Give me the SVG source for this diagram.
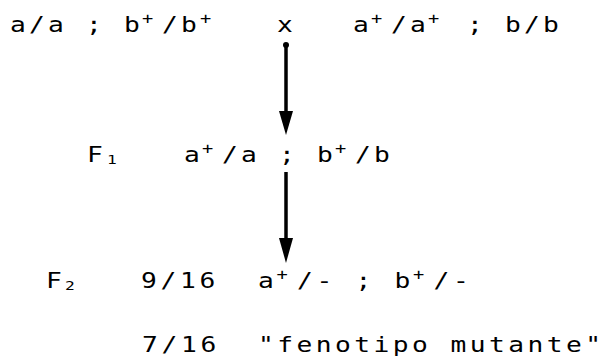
<svg xmlns="http://www.w3.org/2000/svg" width="603" height="358" viewBox="0 0 603 358">
<style>
.t{font-family:"DejaVu Sans Mono","Liberation Mono",monospace;font-size:21px;fill:#000}
.sup{font-size:15px}
.sub{font-size:13px}
.stem{stroke:#000;stroke-width:3.5;fill:none}
.head{fill:#000}
</style>
<rect width="603" height="358" fill="#fff"/>
<g id="parents">
<text class="t" transform="scale(1.25 1)" y="32"><tspan x="8 23.2 38.4">a/a</tspan><tspan x="68.8">;</tspan><tspan x="99.2">b</tspan><tspan class="sup" x="113.6" y="24">+</tspan><tspan x="129.6" y="32">/</tspan><tspan x="144.8">b</tspan><tspan class="sup" x="160" y="24">+</tspan><tspan x="221.6" y="32">x</tspan><tspan x="282.4">a</tspan><tspan class="sup" x="296.8" y="24">+</tspan><tspan x="312.8" y="32">/</tspan><tspan x="328">a</tspan><tspan class="sup" x="342.4" y="24">+</tspan><tspan x="373.6" y="32">;</tspan><tspan x="404 419.2 434.4">b/b</tspan></text>
</g>
<g id="f1">
<text class="t" transform="scale(1.25 1)" y="162"><tspan x="69.6">F</tspan><tspan class="sub" x="85.6" y="164">1</tspan><tspan x="147.2" y="162">a</tspan><tspan class="sup" x="161.6" y="154">+</tspan><tspan x="177.6" y="162">/</tspan><tspan x="192.8">a</tspan><tspan x="223.2">;</tspan><tspan x="253.6">b</tspan><tspan class="sup" x="268" y="154">+</tspan><tspan x="284" y="162">/</tspan><tspan x="299.2">b</tspan></text>
</g>
<g id="f2">
<text class="t" transform="scale(1.25 1)" y="288"><tspan x="36.8">F</tspan><tspan class="sub" x="52" y="290">2</tspan><tspan x="112.8 128.4 144 159.6" y="288">9/16</tspan><tspan x="206.4">a</tspan><tspan class="sup" x="221.2" y="280">+</tspan><tspan x="237.6" y="288">/</tspan><tspan x="253.2">-</tspan><tspan x="284.4">;</tspan><tspan x="315.6">b</tspan><tspan class="sup" x="330.4" y="280">+</tspan><tspan x="346.8" y="288">/</tspan><tspan x="362.4">-</tspan></text>
</g>
<g id="f2-mutant">
<text class="t" transform="scale(1.25 1)" y="352"><tspan x="113.6 129.2 144.8 160.4">7/16</tspan><tspan x="206.4 221.8 237.2 252.6 268 283.4 298.8 314.2 329.6 345 360.4 375.8 391.2 406.6 422 437.4 452.8 468.2">"fenotipo mutante"</tspan></text>
</g>
<g id="connectors">
<line class="stem" x1="286" y1="45" x2="286" y2="116"/>
<circle cx="286" cy="45" r="3" fill="#000"/>
<polygon class="head" points="279,111 293,111 286,135"/>
<line class="stem" x1="286" y1="172" x2="286" y2="242"/>
<polygon class="head" points="279,238 293,238 286,263"/>
</g>
</svg>
